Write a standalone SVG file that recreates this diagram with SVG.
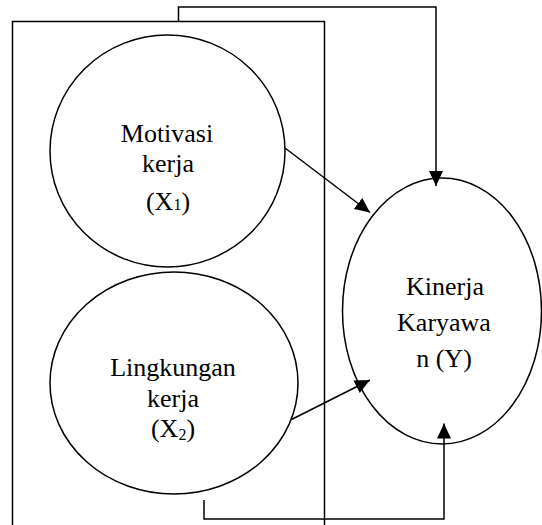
<svg xmlns="http://www.w3.org/2000/svg" width="542" height="525" viewBox="0 0 542 525">
<style>
.shape{fill:none;stroke:#000;stroke-width:1.5}
.line{fill:none;stroke:#000;stroke-width:1.5}
.lbl{font-family:"Liberation Serif","Times New Roman",serif;font-size:26px;fill:#000;text-anchor:middle}
.sub{font-size:16px}
</style>
<defs>
<marker id="arr" markerUnits="userSpaceOnUse" markerWidth="16" markerHeight="14" refX="15" refY="7" orient="auto">
<path d="M0,0 L15,7 L0,14 Z" fill="#000"/>
</marker>
</defs>
<rect width="542" height="525" fill="#fff"/>
<g id="frame">
<path class="line" d="M12.5,525 V21.5 H324.5 V525"/>
</g>
<g id="node-x1">
<ellipse class="shape" cx="167.5" cy="151" rx="117.5" ry="116"/>
<text class="lbl" x="167" y="142">Motivasi</text>
<text class="lbl" x="168" y="172">kerja</text>
<text class="lbl" x="168" y="210">(X<tspan class="sub">1</tspan>)</text>
</g>
<g id="node-x2">
<ellipse class="shape" cx="174" cy="383" rx="124" ry="111"/>
<text class="lbl" x="173" y="376">Lingkungan</text>
<text class="lbl" x="173" y="407">kerja</text>
<text class="lbl" x="173" y="437">(X<tspan class="sub" dy="3">2</tspan><tspan dy="-3">)</tspan></text>
</g>
<g id="node-y">
<ellipse class="shape" cx="442" cy="311" rx="99.5" ry="133"/>
<text class="lbl" x="445" y="295">Kinerja</text>
<text class="lbl" x="444" y="331">Karyawa</text>
<text class="lbl" x="444" y="367">n (Y)</text>
</g>
<g id="connectors">
<line class="line" x1="285" y1="148" x2="370" y2="212.5" marker-end="url(#arr)"/>
<line class="line" x1="291.5" y1="419.5" x2="370" y2="380" marker-end="url(#arr)"/>
<path class="line" d="M178.5,21.5 V7 H436 V186" marker-end="url(#arr)"/>
<path class="line" d="M204,500 V519 H444 V423.5" marker-end="url(#arr)"/>
</g>
</svg>
